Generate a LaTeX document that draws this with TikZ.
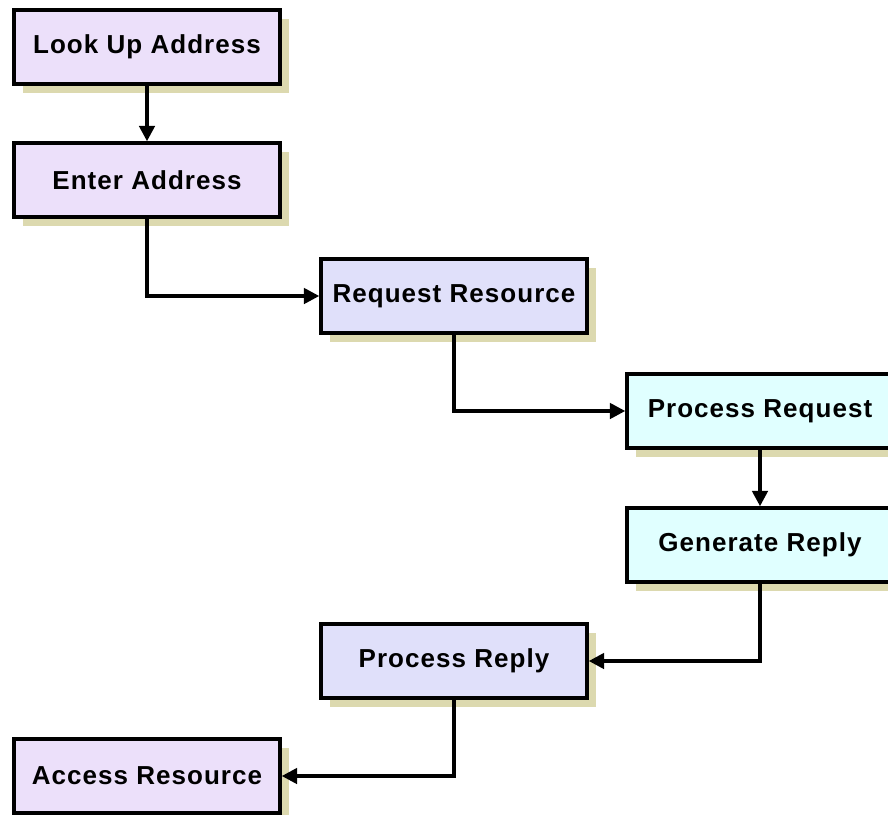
\documentclass[tikz,border=0pt]{standalone}
\usepackage{fontspec}
\setmainfont{Liberation Sans}
\newfontfamily\boxfont{Liberation Sans}[LetterSpace=4]
\usepackage{xcolor}
\usepackage{tikz}
\usetikzlibrary{arrows.meta,shadows}
\definecolor{lilac}{HTML}{ECE0FA}
\definecolor{lavender}{HTML}{E0E0FA}
\definecolor{paleblue}{HTML}{E0FFFF}
\definecolor{khaki}{HTML}{DCD9AF}

\begin{document}
\begin{tikzpicture}[x=0.75pt,y=-0.75pt,>={Triangle[length=11.5pt,width=11.5pt]},
  stepbox/.style={draw,line width=2.6pt,minimum width=199.5pt,minimum height=55.5pt,
    inner sep=0pt,font=\boxfont\bfseries\fontsize{19.5}{23}\selectfont,
    drop shadow={shadow xshift=6.5pt,shadow yshift=-6.5pt,fill=khaki,opacity=1}},
  link/.style={->,line width=2.6pt}]
\useasboundingbox (0,0) rectangle (888,814);
\node[stepbox,fill=lilac] (lookup) at (147,47) {Look Up Address};
\node[stepbox,fill=lilac] (enter) at (147,180) {Enter Address};
\node[stepbox,fill=lavender] (reqres) at (454,296) {Request Resource};
\node[stepbox,fill=paleblue] (procreq) at (760,411) {Process Request};
\node[stepbox,fill=paleblue] (genrep) at (760,545) {Generate Reply};
\node[stepbox,fill=lavender] (procrep) at (454,661) {Process Reply};
\node[stepbox,fill=lilac] (access) at (147,776) {Access Resource};
\draw[link] (lookup) -- (enter);
\draw[link] (enter) |- (reqres);
\draw[link] (reqres) |- (procreq);
\draw[link] (procreq) -- (genrep);
\draw[link] (genrep) |- (procrep);
\draw[link] (procrep) |- (access);
\end{tikzpicture}
\end{document}
